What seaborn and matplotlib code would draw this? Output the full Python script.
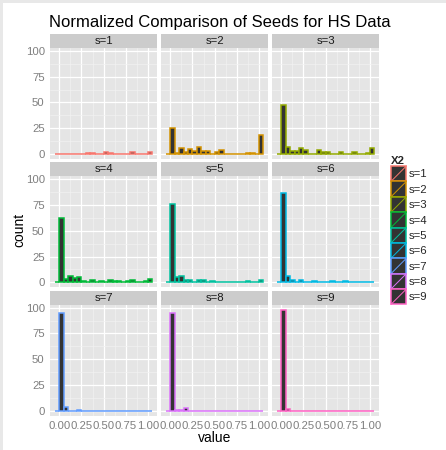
import numpy as np
import pandas as pd
import seaborn as sns
import matplotlib.pyplot as plt
from matplotlib.patches import Rectangle, Patch
from matplotlib.lines import Line2D
from matplotlib.legend_handler import HandlerBase

# histogram bins, binwidth 0.05 from -0.05 to 1.05
bin_edges = np.round(np.arange(-0.05, 1.0501, 0.05), 2)
bin_mids = (bin_edges[:-1] + bin_edges[1:]) / 2

seeds = ["s=1", "s=2", "s=3", "s=4", "s=5", "s=6", "s=7", "s=8", "s=9"]
seed_colors = ["#F8766D", "#D39200", "#93AA00", "#00BA38", "#00C19F",
               "#00B9E3", "#619CFF", "#DB72FB", "#FF61C3"]

# counts per bin (22 bins)
counts_s1 = [0, 0, 0, 0, 0, 0, 0, 1, 1, 0, 0, 2, 1, 0, 0, 0, 0, 2, 0, 0, 0, 2]
counts_s2 = [0, 25, 1, 6, 2, 5, 3, 7, 3, 3, 0, 2, 4, 0, 0, 0, 0, 0, 1, 1, 0, 18]
counts_s3 = [0, 48, 7, 3, 3, 6, 4, 0, 0, 4, 2, 2, 0, 0, 2, 0, 0, 2, 0, 0, 1, 6]
counts_s4 = [0, 62, 3, 6, 4, 5, 1, 0, 2, 0, 1, 0, 2, 1, 1, 0, 1, 2, 0, 0, 1, 3]
counts_s5 = [0, 76, 5, 6, 2, 2, 0, 2, 2, 0, 1, 0, 0, 0, 0, 0, 0, 0, 1, 0, 0, 2]
counts_s6 = [0, 87, 6, 2, 0, 2, 0, 0, 1, 0, 0, 0, 1, 0, 0, 1, 0, 0, 0, 0, 0, 0]
counts_s7 = [0, 95, 4, 0, 0, 1, 0, 0, 0, 0, 0, 0, 0, 0, 0, 0, 0, 0, 0, 0, 0, 0]
counts_s8 = [0, 95, 1, 1, 3, 0, 0, 0, 0, 0, 0, 0, 0, 0, 0, 0, 0, 0, 0, 0, 0, 0]
counts_s9 = [0, 98, 2, 0, 0, 0, 0, 0, 0, 0, 0, 0, 0, 0, 0, 0, 0, 0, 0, 0, 0, 0]

all_counts = [counts_s1, counts_s2, counts_s3, counts_s4, counts_s5,
              counts_s6, counts_s7, counts_s8, counts_s9]

df = pd.concat([
    pd.DataFrame({"value": bin_mids, "count": c, "X2": s})
    for s, c in zip(seeds, all_counts)
], ignore_index=True)

sns.set_style("darkgrid", {"axes.facecolor": "#E5E5E5", "grid.color": "white"})
plt.rcParams["font.family"] = ["Liberation Sans", "DejaVu Sans"]

W, H = 446, 450
fig = plt.figure(figsize=(W / 100, H / 100), dpi=100)
fig.patch.set_facecolor("white")

# light frame at top and left of the screenshot
fig.patches.append(Rectangle((0, 1 - 3 / H), 1, 3 / H, transform=fig.transFigure,
                             facecolor="#E8E8E8", edgecolor="none"))
fig.patches.append(Rectangle((0, 0), 3 / W, 1, transform=fig.transFigure,
                             facecolor="#E8E8E8", edgecolor="none"))

col_x = [50, 161, 272]
row_top = [48, 176.3, 304.7]
pw, ph, sh = 107.3, 111, 14
tick_col = "#7F7F7F"
small = 8.2

for i, (s, col) in enumerate(zip(seeds, seed_colors)):
    r, c = divmod(i, 3)
    x0, top = col_x[c], row_top[r]
    ax = fig.add_axes([x0 / W, 1 - (top + ph) / H, pw / W, ph / H])
    sub = df[df["X2"] == s]
    sns.histplot(data=sub, x="value", weights="count", bins=list(bin_edges),
                 color="#333333", edgecolor=col, linewidth=1.1, alpha=1, ax=ax)
    ax.set_xlim(-0.105, 1.105)
    ax.set_ylim(-4.9, 102.9)
    ax.set_xticks([0, 0.25, 0.5, 0.75, 1.0])
    ax.set_xticks([0.125, 0.375, 0.625, 0.875], minor=True)
    ax.set_yticks([0, 25, 50, 75, 100])
    ax.set_yticks([12.5, 37.5, 62.5, 87.5], minor=True)
    ax.grid(which="major", color="white", lw=0.9)
    ax.grid(which="minor", color="#F2F2F2", lw=0.45)
    ax.set_axisbelow(True)
    for sp in ax.spines.values():
        sp.set_visible(False)
    ax.set_xlabel("")
    ax.set_ylabel("")
    ax.tick_params(which="minor", length=0)
    ax.tick_params(which="major", length=2.3, width=0.6, color=tick_col,
                   labelcolor=tick_col, labelsize=small, pad=1.5)
    if c == 0:
        ax.set_yticklabels(["0", "25", "50", "75", "100"])
    else:
        ax.tick_params(axis="y", length=0, labelleft=False)
    if r == 2:
        ax.set_xticklabels(["0.00", "0.25", "0.50", "0.75", "1.00"])
    else:
        ax.tick_params(axis="x", length=0, labelbottom=False)

    strip = fig.add_axes([x0 / W, 1 - top / H, pw / W, sh / H])
    strip.set_facecolor("#CCCCCC")
    strip.set_xticks([])
    strip.set_yticks([])
    for sp in strip.spines.values():
        sp.set_visible(False)
    strip.text(0.5, 0.5, s, ha="center", va="center", fontsize=small,
               color="#1A1A1A", transform=strip.transAxes)

fig.text(220 / W, 1 - 22 / H, "Normalized Comparison of Seeds for HS Data",
         ha="center", va="center", fontsize=12, color="black")
fig.text(214.6 / W, 1 - 438 / H, "value", ha="center", va="center",
         fontsize=10, color="black")
fig.text(19 / W, 1 - 230 / H, "count", ha="center", va="center",
         rotation=90, fontsize=10, color="black")


class KeyHandler(HandlerBase):
    def create_artists(self, legend, orig_handle, xdescent, ydescent,
                       width, height, fontsize, trans):
        col = orig_handle.get_edgecolor()
        box = Rectangle((-xdescent, -ydescent), width, height,
                        facecolor="#333333", edgecolor=col, lw=1.1,
                        transform=trans)
        slash = Line2D([-xdescent, -xdescent + width],
                       [-ydescent, -ydescent + height],
                       color=col, lw=0.7, transform=trans)
        return [box, slash]


handles = [Patch(facecolor="#333333", edgecolor=col) for col in seed_colors]
leg = fig.legend(handles, seeds, handler_map={Patch: KeyHandler()},
                 loc="upper left", bbox_to_anchor=(391 / W, 1 - 156 / H),
                 frameon=False, fontsize=small, title="X2",
                 title_fontproperties={"weight": "bold", "size": small},
                 handlelength=1.35, handleheight=1.70, labelspacing=0,
                 handletextpad=0.2, borderpad=0, borderaxespad=0,
                 alignment="left")

fig.savefig("out.png", dpi=100)
